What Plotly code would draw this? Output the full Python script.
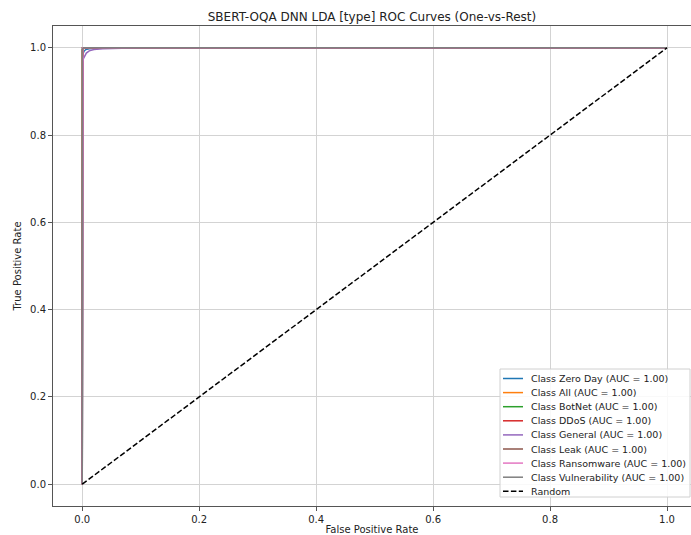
import plotly.graph_objects as go

title = "SBERT-OQA DNN LDA [type] ROC Curves (One-vs-Rest)"
class_names = ["Zero Day", "All", "BotNet", "DDoS", "General", "Leak", "Ransomware", "Vulnerability"]
class_colors = ["#1f77b4", "#ff7f0e", "#2ca02c", "#d62728", "#9467bd", "#8c564b", "#e377c2", "#7f7f7f"]
auc_values = [1.00, 1.00, 1.00, 1.00, 1.00, 1.00, 1.00, 1.00]

# ROC points per class (fpr, tpr)
fpr_zero_day = [0.0, 0.0, 0.001, 0.003, 0.006, 0.012, 0.03, 1.0]
tpr_zero_day = [0.0, 0.97, 0.985, 0.992, 0.996, 0.998, 1.0, 1.0]
fpr_all = [0.0, 0.0, 0.002, 1.0]
tpr_all = [0.0, 0.995, 1.0, 1.0]
fpr_botnet = [0.0, 0.0, 0.001, 1.0]
tpr_botnet = [0.0, 0.998, 1.0, 1.0]
fpr_ddos = [0.0, 0.0, 0.001, 1.0]
tpr_ddos = [0.0, 0.997, 1.0, 1.0]
fpr_general = [0.0, 0.0, 0.001, 0.002, 0.004, 0.007, 0.012, 0.02, 0.035, 0.06, 0.1, 1.0]
tpr_general = [0.0, 0.96, 0.968, 0.975, 0.982, 0.988, 0.993, 0.996, 0.998, 0.999, 1.0, 1.0]
fpr_leak = [0.0, 0.0, 1.0]
tpr_leak = [0.0, 1.0, 1.0]
fpr_ransomware = [0.0, 0.0, 0.001, 1.0]
tpr_ransomware = [0.0, 0.999, 1.0, 1.0]
fpr_vulnerability = [0.0, 0.0, 0.002, 1.0]
tpr_vulnerability = [0.0, 0.996, 1.0, 1.0]
random_x = [0.0, 1.0]
random_y = [0.0, 1.0]

fprs = [fpr_zero_day, fpr_all, fpr_botnet, fpr_ddos, fpr_general, fpr_leak, fpr_ransomware, fpr_vulnerability]
tprs = [tpr_zero_day, tpr_all, tpr_botnet, tpr_ddos, tpr_general, tpr_leak, tpr_ransomware, tpr_vulnerability]

tick_vals = [0.0, 0.2, 0.4, 0.6, 0.8, 1.0]
tick_text = ["0.0", "0.2", "0.4", "0.6", "0.8", "1.0"]

W, H = 691, 535
ML, MR, MT, MB = 53, 0, 26, 29
PW, PH = W - ML - MR, H - MT - MB
DASH = "5.5px,2.4px"


def px(x):
    return (x - ML) / PW


def py(y):
    return (H - MB - y) / PH


fig = go.Figure()
legend_items = []
for name, color, auc, fx, ty in zip(class_names, class_colors, auc_values, fprs, tprs):
    label = f"Class {name} (AUC = {auc:.2f})"
    fig.add_trace(go.Scatter(x=fx, y=ty, mode="lines", name=label, showlegend=False,
                             line=dict(color=color, width=1.5)))
    legend_items.append((label, color, "solid"))
fig.add_trace(go.Scatter(x=random_x, y=random_y, mode="lines", name="Random", showlegend=False,
                         line=dict(color="black", width=1.5, dash=DASH)))
legend_items.append(("Random", "black", DASH))

# compact matplotlib-like legend
shapes = [dict(type="rect", xref="paper", yref="paper", x0=px(500), x1=px(690), y0=py(497), y1=py(369),
               fillcolor="rgba(255,255,255,0.85)", line=dict(color="#d0d0d0", width=1), layer="above")]
annotations = []
for i, (label, color, dash) in enumerate(legend_items):
    yy = 378.5 + 14.1 * i
    shapes.append(dict(type="line", xref="paper", yref="paper", x0=px(503), x1=px(523), y0=py(yy), y1=py(yy),
                       line=dict(color=color, width=1.5, dash=dash), layer="above"))
    annotations.append(dict(xref="paper", yref="paper", x=px(529), y=py(yy), text=label, showarrow=False,
                            xanchor="left", yanchor="middle",
                            font=dict(family="DejaVu Sans", size=9.5, color="#222222")))

axis_common = dict(showgrid=True, gridcolor="#d3d3d3", gridwidth=1, zeroline=False,
                   showline=True, linecolor="#555555", linewidth=1, mirror=True,
                   ticks="outside", ticklen=4, tickcolor="#555555",
                   tickfont=dict(family="DejaVu Sans", size=10, color="#222222"),
                   tickvals=tick_vals, ticktext=tick_text)

fig.update_layout(
    width=W, height=H,
    margin=dict(l=ML, r=MR, t=MT, b=MB),
    paper_bgcolor="white", plot_bgcolor="white",
    title=dict(text=title, x=0.5, xref="paper", xanchor="center", y=1 - 17 / H, yanchor="middle",
               font=dict(family="DejaVu Sans", size=12, color="#222222")),
    xaxis=dict(range=[-0.05, 1.041], title=dict(text="False Positive Rate", standoff=2,
               font=dict(family="DejaVu Sans", size=10, color="#222222")), **axis_common),
    yaxis=dict(range=[-0.05, 1.05], title=dict(text="True Positive Rate", standoff=6,
               font=dict(family="DejaVu Sans", size=10, color="#222222")), **axis_common),
    shapes=shapes, annotations=annotations,
    showlegend=False,
)

fig.write_html("out.html")
